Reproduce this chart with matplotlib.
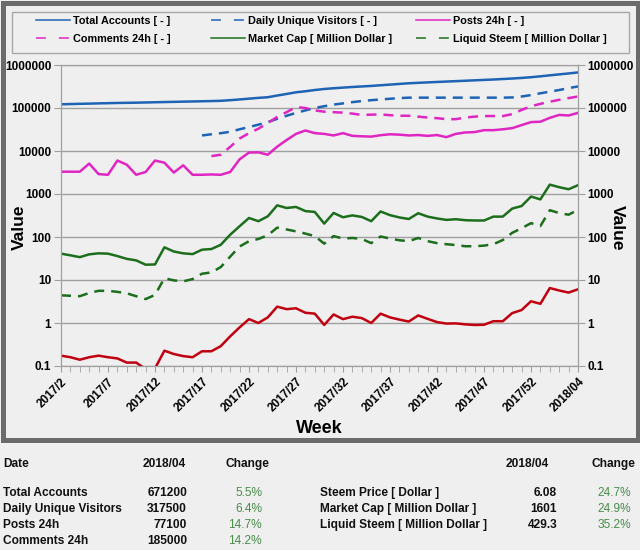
import matplotlib
matplotlib.use("Agg")
import matplotlib.pyplot as plt
from matplotlib.lines import Line2D
from matplotlib.patches import Rectangle
from matplotlib.ticker import FixedLocator, NullLocator
import numpy as np

nan = float("nan")

# ---------------- data ----------------
weeks = [f"2017/{w}" for w in range(2, 53)] + [f"2018/{w:02d}" for w in range(0, 5)]

total_accounts = [122000, 123500, 125000, 126500, 128000, 129500, 131000, 132000, 133000, 134500,
                  136000, 137500, 139000, 140500, 142000, 143500, 145000, 147000, 152000, 158000,
                  165000, 172000, 178000, 195000, 212000, 232000, 245000, 262000, 277000, 288000,
                  298000, 308000, 317000, 326000, 338000, 350000, 363000, 376000, 385000, 394000,
                  403000, 412000, 421000, 430000, 440000, 450000, 460000, 472000, 485000, 500000,
                  520000, 545000, 575000, 605000, 636000, 671200]

daily_unique_visitors = [nan] * 15 + [23000, 24500, 26000, 28000, 32000, 36000, 41000, 47000, 56000, 66000,
                                      77000, 88000, 100000, 110000, 120000, 128000, 137000, 145000, 152000, 158000,
                                      164000, 170000, 174000, 174000, 174000, 174000, 174000, 174000, 174000, 174000,
                                      174000, 174000, 174000, 176000, 185000, 200000, 220000, 240000, 262000, 290000,
                                      317500]

posts_24h = [3300, 3300, 3300, 5100, 2900, 2800, 6000, 4800, 2800, 3250,
             6000, 5350, 3150, 4650, 2800, 2800, 2850, 2800, 3250, 6400,
             9200, 9300, 8200, 12600, 18000, 25000, 30000, 26000, 25000, 23000,
             26000, 22500, 22000, 21600, 23300, 24500, 24000, 23000, 23500, 22500,
             23500, 21000, 25000, 27000, 27500, 30500, 30500, 32000, 34000, 40000,
             47000, 48000, 59000, 69000, 67000, 77100]

comments_24h = [nan] * 16 + [7600, 8200, 12500, 19500, 26000, 33000, 45000, 62000, 80000, 105000,
                             100000, 88000, 82000, 80000, 78000, 74000, 69000, 70000, 71000, 68000,
                             66000, 66000, 63000, 60000, 58000, 55000, 55000, 60000, 63000, 65000,
                             65000, 65000, 72000, 90000, 110000, 125000, 140000, 155000, 170000, 185000]

market_cap = [41, 37.5, 34, 39.5, 41.7, 41, 36, 31, 28.6, 22.7,
              23, 57.5, 46, 41.7, 40, 50.7, 52.5, 66, 113, 178,
              277, 233, 303, 545, 473, 500, 400, 383, 205, 362,
              288, 318, 293, 233, 392, 322, 285, 262, 357, 298,
              270, 250, 259, 246, 242, 242, 298, 298, 458, 525,
              870, 750, 1650, 1440, 1290, 1601]

liquid_steem = [4.4, 4.3, 4.2, 5.0, 5.6, 5.6, 5.3, 4.9, 4.2, 3.6,
                4.5, 11, 9.8, 9.3, 10.5, 14, 15, 20, 35, 60,
                80, 90, 110, 165, 150, 135, 120, 105, 70, 105,
                92, 95, 90, 72, 103, 92, 84, 80, 95, 80,
                72, 68, 65, 61, 61, 63, 68, 85, 125, 160,
                210, 180, 420, 360, 330, 429.3]

steem_price = [0.174, 0.16, 0.14, 0.16, 0.174, 0.16, 0.15, 0.12, 0.12, 0.085,
               0.088, 0.227, 0.19, 0.17, 0.16, 0.22, 0.22, 0.29, 0.49, 0.79,
               1.23, 1.0, 1.35, 2.4, 2.1, 2.2, 1.73, 1.65, 0.9, 1.58,
               1.23, 1.4, 1.3, 1.0, 1.65, 1.35, 1.2, 1.08, 1.5, 1.25,
               1.05, 0.97, 0.98, 0.93, 0.9, 0.91, 1.1, 1.1, 1.7, 2.0,
               3.2, 2.8, 6.5, 5.7, 5.1, 6.08]

y_ticks = [0.1, 1, 10, 100, 1000, 10000, 100000, 1000000]
y_tick_labels = ["0.1", "1", "10", "100", "1000", "10000", "100000", "1000000"]

table_header = ["Date", "2018/04", "Change", "2018/04", "Change"]
left_names = ["Total Accounts", "Daily Unique Visitors", "Posts 24h", "Comments 24h"]
left_values = ["671200", "317500", "77100", "185000"]
left_changes = ["5.5%", "6.4%", "14.7%", "14.2%"]
right_names = ["Steem Price [ Dollar ]", "Market Cap [ Million Dollar ]", "Liquid Steem [ Million Dollar ]"]
right_values = ["6.08", "1601", "429.3"]
right_changes = ["24.7%", "24.9%", "35.2%"]

# ---------------- style ----------------
W, H = 640, 550
BG = "#efefef"
BLUE = "#1f63b5"
MAGENTA = "#e026c2"
GREEN = "#1c6e1c"
RED = "#c00010"
GRID = "#a0a0a0"
FONT = "Liberation Sans"
plt.rcParams["font.family"] = [FONT, "DejaVu Sans"]
plt.rcParams["font.weight"] = "bold"
FS_TICK = 8.5
FS_LEG = 7.8
FS_TAB = 8.6


def fx(px):
    return px / W


def fy(py):
    return 1 - py / H


fig = plt.figure(figsize=(W / 100, H / 100), dpi=100, facecolor=BG)

# outer frame around chart part
fig.patches.append(Rectangle((fx(2.5), fy(439.5)), 635 / W, 437 / H, transform=fig.transFigure,
                             fill=False, lw=3.6, ec="#6b6b6b", zorder=0))
# legend box
fig.patches.append(Rectangle((fx(11.5), fy(52.5)), 617 / W, 40 / H, transform=fig.transFigure,
                             fill=False, lw=1.0, ec="#a8a8a8", zorder=0))

L, R, T, B = 61, 578, 65, 366
ax = fig.add_axes([fx(L), fy(B), (R - L) / W, (B - T) / H])
ax.set_facecolor(BG)
x = np.arange(len(weeks))

dash = (4, 2.8)
lw = 1.8
ax.plot(x, total_accounts, color=BLUE, lw=lw)
ax.plot(x, daily_unique_visitors, color=BLUE, lw=lw, dashes=dash)
ax.plot(x, posts_24h, color=MAGENTA, lw=lw)
ax.plot(x, comments_24h, color=MAGENTA, lw=lw, dashes=dash)
ax.plot(x, market_cap, color=GREEN, lw=lw)
ax.plot(x, liquid_steem, color=GREEN, lw=lw, dashes=dash)
ax.plot(x, steem_price, color=RED, lw=lw)

ax.set_yscale("log")
ax.set_ylim(0.1, 1e6)
ax.set_xlim(0, len(weeks) - 1)
ax.yaxis.set_major_locator(FixedLocator(y_ticks))
ax.yaxis.set_minor_locator(NullLocator())
ax.set_yticklabels(y_tick_labels, fontsize=FS_TICK, fontweight="bold")
ax.yaxis.grid(True, color=GRID, lw=1.0)
ax.set_axisbelow(True)

major_x = list(range(0, len(weeks), 5))
ax.xaxis.set_major_locator(FixedLocator(major_x))
ax.xaxis.set_minor_locator(FixedLocator(list(x)))
ax.set_xticklabels([weeks[i] for i in major_x], rotation=45, ha="right", rotation_mode="anchor",
                   fontsize=FS_TICK, fontweight="bold")
ax.tick_params(axis="x", which="both", length=4, color=GRID, pad=3)
ax.tick_params(axis="y", which="major", length=5, color=GRID, pad=2)
for s in ax.spines.values():
    s.set_color(GRID)
ax.set_xlabel("Week", fontsize=13, fontweight="bold", labelpad=4)
ax.set_ylabel("Value", fontsize=12.5, fontweight="bold")
ax.yaxis.set_label_coords((27 - L) / (R - L), 0.46)

ax2 = ax.twinx()
ax2.set_yscale("log")
ax2.set_ylim(0.1, 1e6)
ax2.yaxis.set_major_locator(FixedLocator(y_ticks))
ax2.yaxis.set_minor_locator(NullLocator())
ax2.set_yticklabels(y_tick_labels, fontsize=FS_TICK, fontweight="bold")
ax2.tick_params(axis="y", which="major", length=5, color=GRID, pad=2)
for s in ax2.spines.values():
    s.set_color(GRID)
ax2.set_ylabel("Value", fontsize=12.5, fontweight="bold", rotation=270, va="bottom")
ax2.yaxis.set_label_coords((610 - L) / (R - L), 0.46)

# legend: three columns, each its own legend so column starts match
h_lw = 1.1
hdash = (6.5, 8.5)
columns = [
    (36, [Line2D([], [], color=BLUE, lw=h_lw, label="Total Accounts [ - ]"),
          Line2D([], [], color=MAGENTA, lw=h_lw, dashes=hdash, label="Comments 24h [ - ]")]),
    (211, [Line2D([], [], color=BLUE, lw=h_lw, dashes=hdash, label="Daily Unique Visitors [ - ]"),
           Line2D([], [], color=GREEN, lw=h_lw, label="Market Cap [ Million Dollar ]")]),
    (416, [Line2D([], [], color=MAGENTA, lw=h_lw, label="Posts 24h [ - ]"),
           Line2D([], [], color=GREEN, lw=h_lw, dashes=hdash, label="Liquid Steem [ Million Dollar ]")]),
]
for xpos, hs in columns:
    fig.legend(handles=hs, ncol=1, loc="upper left", bbox_to_anchor=(fx(xpos), fy(16)),
               frameon=False, handlelength=3.1, handletextpad=0.3,
               labelspacing=0.75, borderpad=0.0, borderaxespad=0.0,
               prop={"family": FONT, "weight": "bold", "size": FS_LEG})

# bottom table
TXT = "#111111"
CHG = "#4a8c4a"
hy = 464
fig.text(fx(3), fy(hy), table_header[0], fontsize=FS_TAB, fontweight="bold", va="center", color=TXT)
fig.text(fx(186), fy(hy), table_header[1], fontsize=FS_TAB, fontweight="bold", va="center", ha="right", color=TXT)
fig.text(fx(269), fy(hy), table_header[2], fontsize=FS_TAB, fontweight="bold", va="center", ha="right", color=TXT)
fig.text(fx(549), fy(hy), table_header[3], fontsize=FS_TAB, fontweight="bold", va="center", ha="right", color=TXT)
fig.text(fx(635), fy(hy), table_header[4], fontsize=FS_TAB, fontweight="bold", va="center", ha="right", color=TXT)

row_y = [493, 509, 525, 541]
for i, (n, v, c) in enumerate(zip(left_names, left_values, left_changes)):
    fig.text(fx(3), fy(row_y[i]), n, fontsize=FS_TAB, fontweight="bold", va="center", color=TXT)
    fig.text(fx(187), fy(row_y[i]), v, fontsize=FS_TAB, fontweight="bold", va="center", ha="right", color=TXT)
    fig.text(fx(262), fy(row_y[i]), c, fontsize=FS_TAB, fontweight="normal", va="center", ha="right", color=CHG)
for i, (n, v, c) in enumerate(zip(right_names, right_values, right_changes)):
    fig.text(fx(320), fy(row_y[i]), n, fontsize=FS_TAB, fontweight="bold", va="center", color=TXT)
    fig.text(fx(557), fy(row_y[i]), v, fontsize=FS_TAB, fontweight="bold", va="center", ha="right", color=TXT)
    fig.text(fx(631), fy(row_y[i]), c, fontsize=FS_TAB, fontweight="normal", va="center", ha="right", color=CHG)

fig.savefig("out.png", dpi=100, facecolor=BG)
